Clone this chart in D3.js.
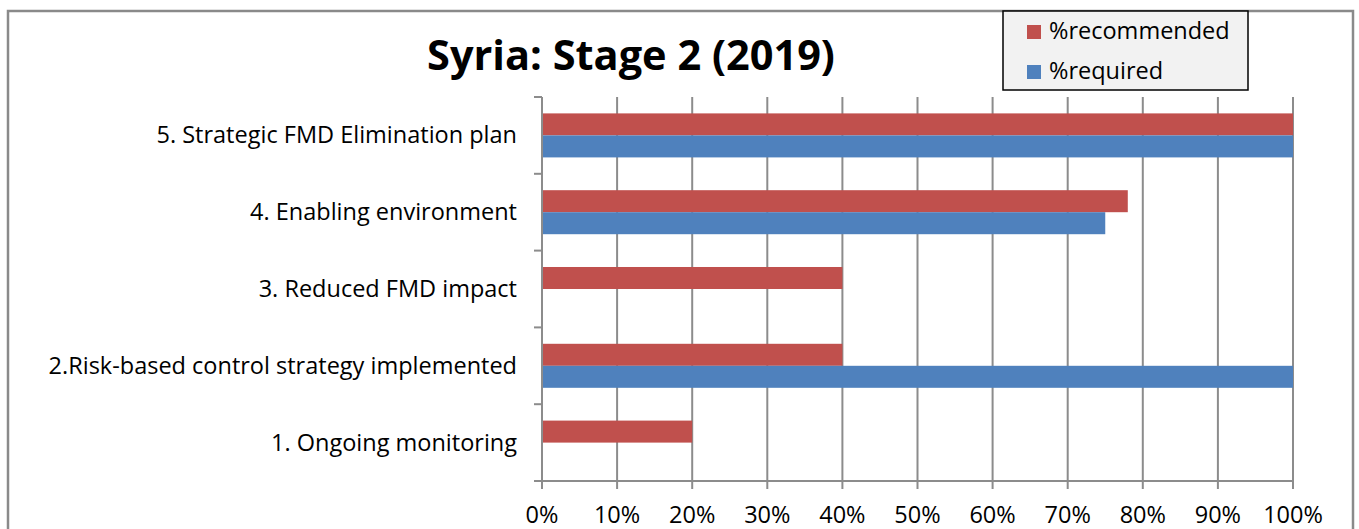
<!DOCTYPE html>
<html>
<head>
<meta charset="utf-8">
<script src="https://cdn.jsdelivr.net/npm/d3@7"></script>
<style>
  html, body { margin: 0; padding: 0; background: #fff; }
  svg { display: block; }
  text { font-family: "Open Sans", "Noto Sans", sans-serif; fill: #000; }
</style>
</head>
<body>
<svg id="chart" width="1359" height="529"></svg>
<script>
// Categories, bottom to top as drawn
const categories = [
  "1. Ongoing monitoring",
  "2.Risk-based control strategy implemented",
  "3. Reduced FMD impact",
  "4. Enabling environment",
  "5. Strategic FMD Elimination plan"
];
const seriesNames = ["%recommended", "%required"];
const recommended = [20, 40, 40, 78, 100];
const required = [0, 100, 0, 75, 100];
const xTicks = [0, 10, 20, 30, 40, 50, 60, 70, 80, 90, 100];
const colors = ["#c0504d", "#4f81bd"];

const svg = d3.select("#chart");
const plot = { left: 542, right: 1293, top: 97, bottom: 481 };
const labelSize = 23.5;

// Outer chart frame
svg.append("rect")
  .attr("x", 8).attr("y", 11).attr("width", 1345).attr("height", 530)
  .attr("fill", "#fff").attr("stroke", "#8a8a8a").attr("stroke-width", 2.5);

const x = d3.scaleLinear().domain([0, 100]).range([plot.left, plot.right]);
// top category at top of plot
const y = d3.scaleBand().domain(categories.slice().reverse())
  .range([plot.top, plot.bottom]).paddingInner(0).paddingOuter(0);
const inner = d3.scaleBand().domain(seriesNames)
  .range([0, y.bandwidth()]).paddingInner(0).paddingOuter(0.745);

// Vertical gridlines
svg.append("g").selectAll("line").data(xTicks).join("line")
  .attr("x1", d => x(d)).attr("x2", d => x(d))
  .attr("y1", plot.top).attr("y2", plot.bottom + 8)
  .attr("stroke", "#8c8c8c").attr("stroke-width", 2);

// Bars
const rows = categories.map((c, i) => ({ cat: c, values: [recommended[i], required[i]] }));
const g = svg.append("g");
rows.forEach(r => {
  r.values.forEach((v, j) => {
    if (v <= 0) return;
    g.append("rect")
      .attr("x", x(0))
      .attr("y", y(r.cat) + inner(seriesNames[j]))
      .attr("width", x(v) - x(0))
      .attr("height", inner.bandwidth())
      .attr("fill", colors[j]);
  });
});

// Category axis (left)
const yAxis = svg.append("g").attr("transform", `translate(${plot.left},0)`);
yAxis.append("line").attr("x1", 0).attr("x2", 0).attr("y1", plot.top).attr("y2", plot.bottom)
  .attr("stroke", "#8c8c8c").attr("stroke-width", 2);
const catEdges = d3.range(categories.length + 1).map(i => plot.top + i * y.step());
yAxis.selectAll("line.tick").data(catEdges).join("line").attr("class", "tick")
  .attr("x1", -8).attr("x2", 0).attr("y1", d => d).attr("y2", d => d)
  .attr("stroke", "#8c8c8c").attr("stroke-width", 2);
yAxis.selectAll("text").data(categories).join("text")
  .attr("x", -25).attr("y", d => y(d) + y.bandwidth() / 2 + 8)
  .attr("text-anchor", "end").attr("font-size", labelSize).text(d => d);

// Value axis (bottom)
svg.append("line").attr("x1", plot.left).attr("x2", plot.right)
  .attr("y1", plot.bottom).attr("y2", plot.bottom)
  .attr("stroke", "#8c8c8c").attr("stroke-width", 2);
svg.append("g").selectAll("text").data(xTicks).join("text")
  .attr("x", d => x(d)).attr("y", 523)
  .attr("text-anchor", "middle").attr("font-size", labelSize)
  .text(d => d + "%");

// Title
svg.append("text").attr("x", 631).attr("y", 70)
  .attr("text-anchor", "middle").attr("font-size", 41.5).attr("font-weight", "bold")
  .text("Syria: Stage 2 (2019)");

// Legend
const lg = svg.append("g");
lg.append("rect").attr("x", 1003).attr("y", 11).attr("width", 245).attr("height", 79)
  .attr("fill", "#f2f2f2").attr("stroke", "#000").attr("stroke-width", 1.5);
seriesNames.forEach((s, i) => {
  lg.append("rect").attr("x", 1027).attr("y", 25 + i * 40).attr("width", 14).attr("height", 14)
    .attr("fill", colors[i]);
  lg.append("text").attr("x", 1049).attr("y", 39 + i * 40).attr("font-size", labelSize).text(s);
});
</script>
</body>
</html>
